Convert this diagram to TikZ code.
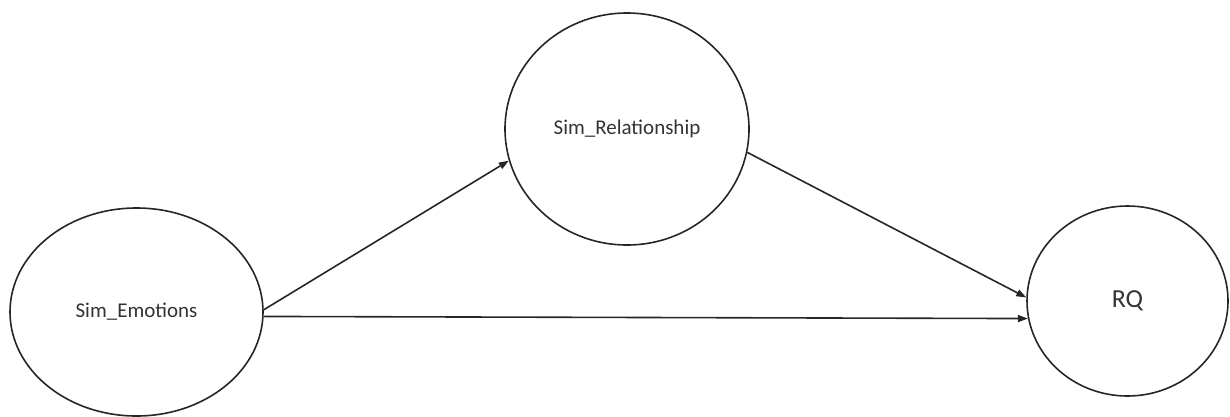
\documentclass[tikz,border=0pt]{standalone}
\usepackage{fontspec}
\setmainfont{Carlito}
\usetikzlibrary{shapes.geometric,arrows.meta}
\begin{document}
\begin{tikzpicture}[x=1pt,y=-1pt,
  latent/.style={draw=black!85, line width=1.6pt, shape=ellipse, inner sep=0pt,
    text=black!80, font=\fontsize{21}{24}\selectfont},
  path/.style={draw=black!85, line width=1.6pt, -{Triangle[length=10pt,width=7pt]}}]
  \useasboundingbox (0,0) rectangle (1230,416);
  \node[latent, minimum width=253pt, minimum height=208pt] (emo) at (136.5,312) {Sim\_Emotions};
  \node[latent, minimum width=244pt, minimum height=232pt] (rel) at (627,129) {Sim\_Relationship};
  \node[latent, minimum width=201pt, minimum height=190pt, font=\fontsize{26}{30}\selectfont] (rq) at (1127.5,301) {RQ};
  \draw[path] (emo.1.8) -- (rel.195.5);
  \draw[path] (emo.-2.3) -- (rq.190);
  \draw[path] (rel.-11) -- (rq.178);
\end{tikzpicture}
\end{document}
